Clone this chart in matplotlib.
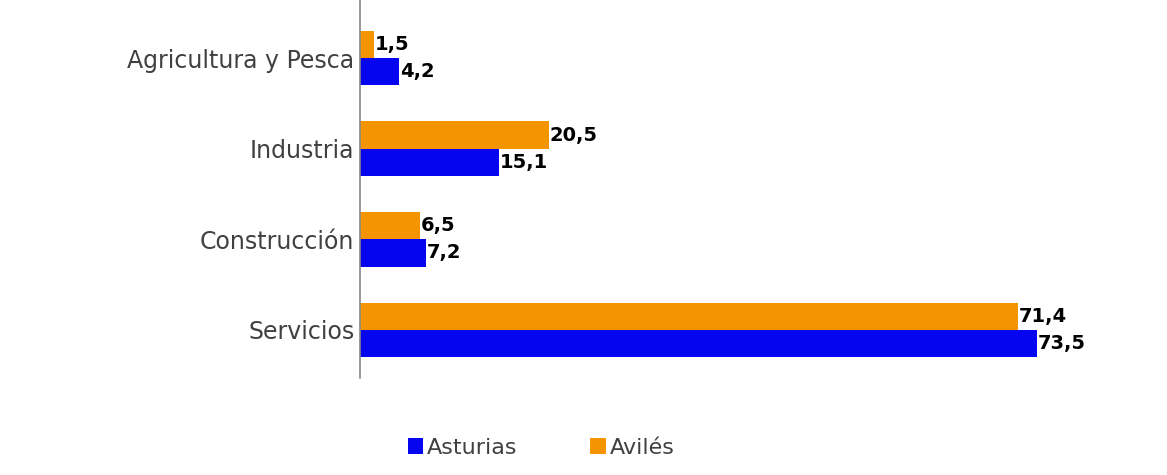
import matplotlib.pyplot as plt
import numpy as np

categories = ['Agricultura y Pesca', 'Industria', 'Construcción', 'Servicios']
asturias = [4.2, 15.1, 7.2, 73.5]
aviles = [1.5, 20.5, 6.5, 71.4]

blue = '#0505f0'
orange = '#f39400'

fig = plt.figure(figsize=(11.67, 4.75), dpi=100)
ax = fig.add_axes([360 / 1167, 1 - 378 / 475, 1 - 360 / 1167, 378 / 475])

y = np.arange(len(categories))
h = 0.3
b1 = ax.barh(y + h / 2, asturias, height=h, color=blue, label='Asturias')
b2 = ax.barh(y - h / 2, aviles, height=h, color=orange, label='Avilés')

# value labels at bar ends
for bars, vals in [(b1, asturias), (b2, aviles)]:
    for bar, v in zip(bars, vals):
        ax.text(v + 0.1, bar.get_y() + bar.get_height() / 2, f'{v:.1f}'.replace('.', ','),
                va='center', ha='left', fontsize=14, fontweight='bold', color='black')

ax.set_yticks(y)
ax.set_yticklabels(categories, fontsize=17, color='#404040')
ax.tick_params(axis='y', length=0, pad=4)
ax.set_xticks([])
ax.set_xlim(0, (1167 - 360) / 9.21)
ax.set_ylim(3.53, -0.64)

for s in ['top', 'right', 'bottom']:
    ax.spines[s].set_visible(False)
ax.spines['left'].set_color('#888888')
ax.spines['left'].set_linewidth(1.2)

handles, labels = ax.get_legend_handles_labels()
fig.legend(handles, labels, loc='center', bbox_to_anchor=(541 / 1167, 1 - 448 / 475), ncol=2,
           frameon=False, fontsize=16, handlelength=0.7, handleheight=0.7, handletextpad=0.15,
           columnspacing=3.3, labelcolor='#404040')

fig.savefig('out.png', dpi=100, facecolor='white')
